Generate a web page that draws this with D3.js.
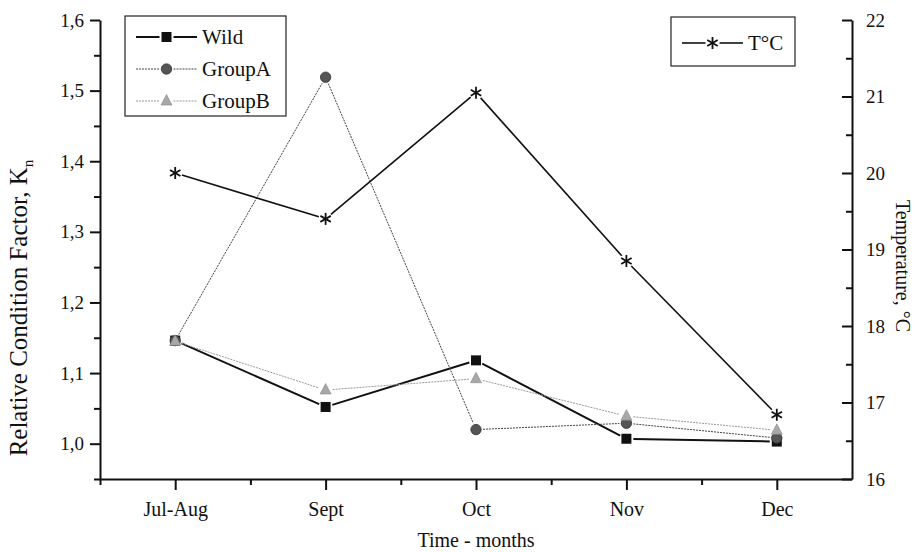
<!DOCTYPE html>
<html>
<head>
<meta charset="utf-8">
<script src="https://cdn.jsdelivr.net/npm/d3@7"></script>
<style>
  body { margin: 0; background: #fff; }
  svg text { font-family: "Liberation Serif", "DejaVu Serif", serif; fill: #111; }
</style>
</head>
<body>
<div id="chart"></div>
<script>
var months = ["Jul-Aug", "Sept", "Oct", "Nov", "Dec"]
var wild = [1.146, 1.052, 1.118, 1.007, 1.003]
var groupA = [1.146, 1.519, 1.020, 1.029, 1.008]
var groupB = [1.145, 1.076, 1.092, 1.039, 1.019]
var temp = [20.0, 19.40, 21.05, 18.85, 16.84]

var kTicks = [1.0, 1.1, 1.2, 1.3, 1.4, 1.5, 1.6]
var kMinor = [0.95, 1.05, 1.15, 1.25, 1.35, 1.45, 1.55]
var tTicks = [16, 17, 18, 19, 20, 21, 22]
var tMinor = [16.5, 17.5, 18.5, 19.5, 20.5, 21.5]

var width = 915, height = 552
// plot frame (note: "top" is taken by window.top)
var plotL = 100, plotR = 852, plotT = 20, plotB = 479

var svg = d3.select("#chart").append("svg")
  .attr("width", width).attr("height", height)

var x = d3.scaleLinear().domain([-0.5, 4.5]).range([plotL, plotR])
var y = d3.scaleLinear().domain([0.95, 1.6]).range([plotB, plotT])
var yT = d3.scaleLinear().domain([16, 22]).range([plotB, plotT])

var comma = function(d) { return d3.format(".1f")(d).replace(".", ",") }

// axes
function styleAxis(g) {
  g.select(".domain").attr("stroke", "#111").attr("stroke-width", 2)
  g.selectAll(".tick line").attr("stroke", "#111").attr("stroke-width", 2)
  g.selectAll("text").attr("font-size", 19).attr("fill", "#111")
    .attr("font-family", "Liberation Serif, serif")
}

svg.append("g").attr("transform", "translate(" + plotL + ",0)")
  .call(d3.axisLeft(y).tickValues(kTicks).tickFormat(comma).tickSize(10).tickSizeOuter(0).tickPadding(6))
  .call(styleAxis)
svg.append("g").attr("transform", "translate(" + plotL + ",0)")
  .call(d3.axisLeft(y).tickValues(kMinor).tickFormat("").tickSize(6).tickSizeOuter(0))
  .call(styleAxis).call(function(g) { g.select(".domain").remove() })

svg.append("g").attr("transform", "translate(" + plotR + ",0)")
  .call(d3.axisRight(yT).tickValues(tTicks).tickFormat(d3.format("d")).tickSize(-10).tickSizeOuter(0).tickPadding(14))
  .call(styleAxis)
svg.append("g").attr("transform", "translate(" + plotR + ",0)")
  .call(d3.axisRight(yT).tickValues(tMinor).tickFormat("").tickSize(-6).tickSizeOuter(0))
  .call(styleAxis).call(function(g) { g.select(".domain").remove() })

svg.append("g").attr("transform", "translate(0," + plotB + ")")
  .call(d3.axisBottom(x).tickValues(d3.range(months.length)).tickFormat(function(i) { return months[i] })
    .tickSize(11).tickSizeOuter(0).tickPadding(12))
  .call(styleAxis)
  .call(function(g) { g.selectAll("text").attr("font-size", 20) })
svg.append("g").attr("transform", "translate(0," + plotB + ")")
  .call(d3.axisBottom(x).tickValues([-0.5, 0.5, 1.5, 2.5, 3.5]).tickFormat("").tickSize(6).tickSizeOuter(0))
  .call(styleAxis).call(function(g) { g.select(".domain").remove() })

// axis titles
svg.append("text")
  .attr("x", (plotL + plotR) / 2).attr("y", 547)
  .attr("text-anchor", "middle").attr("font-size", 20)
  .text("Time - months")

var lt = svg.append("text")
  .attr("transform", "translate(27,308) rotate(-90)")
  .attr("text-anchor", "middle").attr("font-size", 25)
lt.append("tspan").text("Relative Condition Factor, K")
lt.append("tspan").attr("font-size", 15).attr("dy", 6).text("n")

svg.append("text")
  .attr("transform", "translate(896,266) rotate(90)")
  .attr("text-anchor", "middle").attr("font-size", 20)
  .text("Temperature, °C")

// series
var series = [
  { name: "Wild", values: wild, scale: y, stroke: "#111", width: 2, dash: null, marker: "square", fill: "#111" },
  { name: "GroupA", values: groupA, scale: y, stroke: "#444", width: 1, dash: "2,1", marker: "circle", fill: "#555" },
  { name: "GroupB", values: groupB, scale: y, stroke: "#999", width: 1, dash: "2,1", marker: "triangle", fill: "#a8a8a8" },
  { name: "T°C", values: temp, scale: yT, stroke: "#111", width: 1.6, dash: null, marker: "asterisk", fill: "#111" }
]

var gap = 7

function drawMarker(g, type, cx, cy, fill) {
  if (type == "square") {
    g.append("rect").attr("x", cx - 5).attr("y", cy - 5).attr("width", 10).attr("height", 10).attr("fill", fill)
  } else if (type == "circle") {
    g.append("circle").attr("cx", cx).attr("cy", cy).attr("r", 5.2).attr("fill", fill).attr("stroke", "#333").attr("stroke-width", 0.8)
  } else if (type == "triangle") {
    g.append("path").attr("d", "M" + cx + "," + (cy - 6.5) + "L" + (cx + 5.5) + "," + (cy + 4) + "L" + (cx - 5.5) + "," + (cy + 4) + "Z")
      .attr("fill", fill).attr("stroke", "#888").attr("stroke-width", 0.6)
  } else {
    var r = 6
    var a = g.append("g").attr("stroke", fill).attr("stroke-width", 1.8)
    a.append("line").attr("x1", cx).attr("y1", cy - r).attr("x2", cx).attr("y2", cy + r)
    a.append("line").attr("x1", cx - r * 0.87).attr("y1", cy - r * 0.5).attr("x2", cx + r * 0.87).attr("y2", cy + r * 0.5)
    a.append("line").attr("x1", cx - r * 0.87).attr("y1", cy + r * 0.5).attr("x2", cx + r * 0.87).attr("y2", cy - r * 0.5)
  }
}

series.forEach(function(s) {
  var g = svg.append("g").attr("class", "series")
  var pts = s.values.map(function(v, i) { return [x(i), s.scale(v)] })
  d3.pairs(pts).forEach(function(p) {
    var dx = p[1][0] - p[0][0], dy = p[1][1] - p[0][1]
    var len = Math.sqrt(dx * dx + dy * dy)
    var ux = dx / len, uy = dy / len
    g.append("line")
      .attr("x1", p[0][0] + ux * gap).attr("y1", p[0][1] + uy * gap)
      .attr("x2", p[1][0] - ux * gap).attr("y2", p[1][1] - uy * gap)
      .attr("stroke", s.stroke).attr("stroke-width", s.width)
      .attr("stroke-dasharray", s.dash)
  })
  pts.forEach(function(p) { drawMarker(g, s.marker, p[0], p[1], s.fill) })
})

// legends
function legend(items, bx, by, bw, bh, rowY, rowH) {
  var g = svg.append("g")
  g.append("rect").attr("x", bx).attr("y", by).attr("width", bw).attr("height", bh)
    .attr("fill", "#fff").attr("stroke", "#222").attr("stroke-width", 1.2)
  items.forEach(function(s, i) {
    var cy = rowY + i * rowH
    var lx1 = bx + 11, lx2 = bx + 72, cx = (lx1 + lx2) / 2
    g.append("line").attr("x1", lx1).attr("y1", cy).attr("x2", cx - gap).attr("y2", cy)
      .attr("stroke", s.stroke).attr("stroke-width", s.width).attr("stroke-dasharray", s.dash)
    g.append("line").attr("x1", cx + gap).attr("y1", cy).attr("x2", lx2).attr("y2", cy)
      .attr("stroke", s.stroke).attr("stroke-width", s.width).attr("stroke-dasharray", s.dash)
    drawMarker(g, s.marker, cx, cy, s.fill)
    g.append("text").attr("x", lx2 + 5).attr("y", cy).attr("dy", "0.35em")
      .attr("font-size", 21).text(s.name)
  })
}

legend(series.slice(0, 3), 125, 16, 161, 100, 37, 32)
legend(series.slice(3), 671, 17, 124, 49, 43, 0)
</script>
</body>
</html>
